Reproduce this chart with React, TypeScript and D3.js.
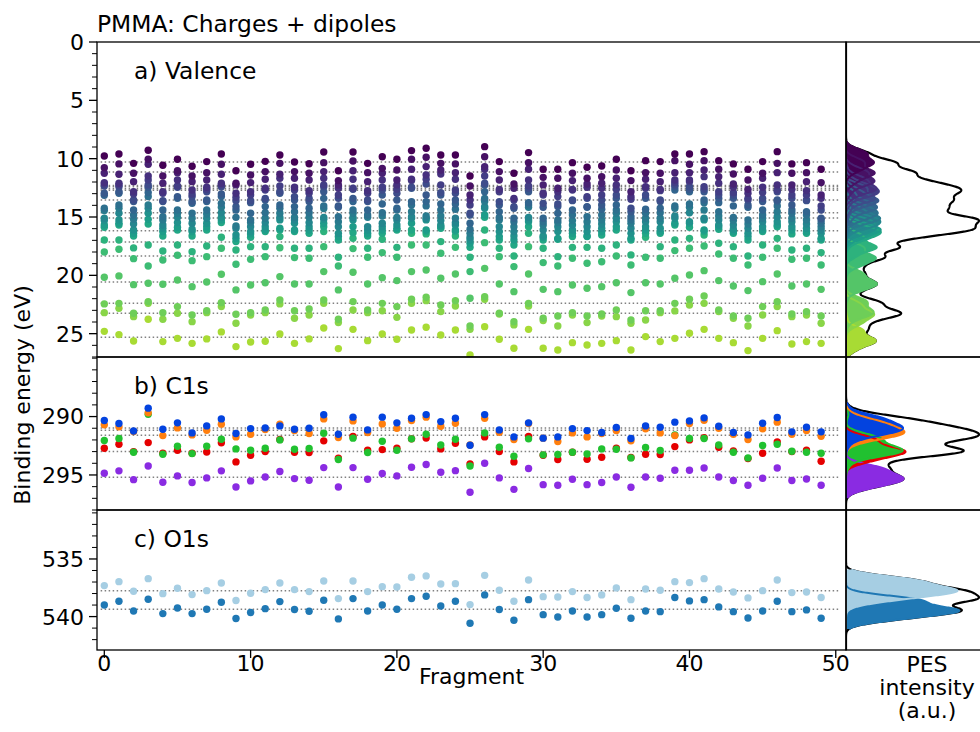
import React from "react";
import * as d3 from "d3";

// ---------------- DATA ----------------
const FRAGMENTS: number[] = d3.range(50);

// Valence binding energies (eV): one row per fragment, 20 orbitals each (sorted)
const VALENCE_BY_FRAGMENT: number[][] = [
  [9.77,10.77,11.25,12.05,12.17,12.34,12.97,13.14,14.25,14.45,15.11,15.31,15.68,15.88,16.97,18.0,20.17,22.45,23.2,24.8],
  [9.6,10.45,11.34,12.11,12.25,12.4,12.83,12.97,13.97,14.25,14.68,15.25,15.54,15.68,16.97,17.77,20.05,22.4,22.83,25.08],
  [10.4,11.25,11.97,12.83,13.03,13.54,13.68,14.4,14.83,15.2,15.6,16.11,16.4,16.63,17.65,18.57,20.8,23.25,23.54,25.63],
  [9.28,10.05,10.48,11.48,11.83,12.25,12.45,12.91,13.25,13.97,14.25,14.68,15.2,15.6,17.4,19.2,20.68,22.25,22.4,23.77],
  [10.57,11.48,12.11,12.83,12.97,13.6,13.68,14.4,14.97,15.25,15.68,15.97,16.25,16.63,17.91,18.68,20.77,23.2,23.77,25.68],
  [10.05,11.03,11.2,11.83,12.34,12.45,13.25,13.4,14.4,14.68,15.03,15.48,15.88,16.11,17.4,18.28,20.4,22.68,23.25,25.4],
  [10.65,11.48,11.97,12.68,13.03,13.25,13.68,13.83,14.68,15.11,15.54,16.05,16.25,16.63,17.97,18.74,20.97,23.4,23.97,25.83],
  [10.25,11.2,11.83,12.45,12.63,12.83,13.54,13.68,14.4,14.74,15.11,15.54,15.83,16.11,17.48,18.4,20.57,23.03,23.2,25.45],
  [9.6,10.48,11.34,12.11,12.25,12.4,13.03,13.25,13.83,14.17,14.63,15.03,15.25,15.48,16.74,17.68,19.91,22.34,22.68,24.85],
  [11.03,12.11,12.25,12.97,13.31,13.6,14.11,14.4,15.03,15.77,15.97,16.54,16.83,17.11,17.83,19.05,21.25,23.34,24.11,26.11],
  [10.48,11.4,12.05,12.83,13.11,13.6,13.77,14.68,15.25,15.48,15.83,16.25,16.45,16.74,17.54,18.63,20.83,23.2,23.4,25.71],
  [10.23,11.11,11.77,12.54,12.68,13.4,13.54,14.11,14.63,15.11,15.48,15.83,16.11,16.25,17.54,18.4,20.63,22.97,23.2,25.65],
  [9.68,10.4,11.34,11.68,12.34,12.83,12.97,13.97,14.25,14.68,15.03,15.25,15.97,16.11,16.68,17.63,20.11,22.11,22.45,25.03],
  [10.28,11.11,11.68,12.45,12.68,13.25,13.54,14.11,14.54,15.03,15.25,15.54,16.11,16.25,17.68,18.48,20.74,23.03,23.68,25.83],
  [10.43,11.25,11.83,12.74,12.97,13.4,13.68,14.25,14.63,15.03,15.48,15.83,16.11,16.4,17.68,18.54,20.74,22.88,23.4,25.45],
  [9.43,10.34,11.11,11.68,12.25,12.4,12.83,13.4,14.05,14.28,15.03,15.2,15.54,15.83,16.25,17.54,19.68,22.11,22.4,24.51],
  [11.03,11.88,12.25,12.54,13.11,13.4,14.05,14.17,14.97,15.4,15.83,16.4,16.68,16.97,18.45,19.2,21.25,23.77,24.05,26.28],
  [9.43,10.2,11.03,11.77,12.54,12.63,13.4,13.68,14.4,14.68,15.03,15.25,15.83,16.34,16.83,17.71,19.74,22.25,22.97,24.63],
  [10.4,11.2,11.97,12.74,12.97,13.54,13.68,14.4,14.83,15.03,15.83,16.11,16.4,16.63,17.68,18.45,20.74,22.97,23.2,25.6],
  [9.83,10.83,11.25,11.83,12.45,12.68,13.11,13.88,14.63,14.91,15.54,15.83,16.11,16.4,16.91,18.05,20.2,22.4,23.03,25.03],
  [10.05,10.97,11.83,12.25,12.63,12.97,13.54,14.25,14.4,15.03,15.25,15.68,15.97,16.11,17.6,18.45,20.45,22.68,23.6,25.48],
  [9.31,10.05,10.91,11.77,11.88,12.45,12.54,13.68,13.97,14.54,14.97,15.11,15.54,16.11,16.4,17.4,19.68,22.05,22.4,24.68],
  [9.11,9.88,10.68,11.4,11.77,12.17,13.11,13.68,14.05,14.91,15.11,15.25,16.11,16.25,16.45,17.4,19.54,21.88,22.17,24.45],
  [9.68,10.4,10.97,11.31,12.25,12.91,13.11,13.88,14.4,14.91,15.31,15.68,15.83,15.97,17.11,18.11,20.25,22.54,23.11,25.11],
  [9.68,10.45,11.2,11.77,12.68,12.97,13.54,13.88,14.34,15.11,15.48,15.68,16.11,16.25,16.63,17.6,19.88,22.17,22.63,24.68],
  [11.48,12.34,13.11,13.54,13.97,14.68,14.83,15.54,16.05,16.4,16.74,16.97,17.25,17.6,18.45,19.68,21.97,24.34,24.63,26.83],
  [8.97,9.83,10.68,10.91,11.48,12.11,12.25,12.83,13.4,13.68,14.11,14.25,14.83,15.03,16.11,17.2,19.4,21.83,22.05,24.4],
  [10.25,11.11,11.83,12.63,12.83,13.68,13.97,14.54,15.03,15.25,15.83,16.25,16.68,16.97,17.68,18.4,20.74,23.25,23.31,25.48],
  [11.25,12.17,12.54,13.4,13.54,14.11,14.25,15.11,15.4,15.83,16.25,16.63,16.97,17.4,18.34,19.25,21.4,23.97,24.25,26.25],
  [9.48,10.34,10.91,11.83,12.34,12.54,12.83,13.77,13.97,14.17,15.03,15.25,15.4,15.83,16.4,17.54,19.88,22.4,22.63,24.63],
  [10.91,11.6,12.25,12.97,13.11,13.83,14.17,15.11,15.4,15.68,16.11,16.63,16.74,16.97,17.68,18.91,21.2,23.68,23.88,26.25],
  [10.91,11.68,12.54,12.83,13.25,13.88,14.11,14.68,15.25,15.48,15.83,16.25,16.83,16.91,18.4,19.2,21.4,23.48,24.34,26.4],
  [10.34,11.25,11.88,12.63,12.68,13.54,13.6,14.4,14.83,15.31,15.68,16.11,16.4,16.68,17.6,18.54,20.83,23.2,23.4,25.77],
  [10.74,11.68,12.17,12.45,13.25,13.4,14.11,14.17,14.97,15.4,15.83,16.25,16.63,16.68,17.6,18.97,21.11,23.48,24.05,25.97],
  [10.63,11.54,12.11,12.54,13.11,13.54,13.97,14.34,14.83,15.25,15.6,15.97,16.25,16.54,17.68,18.83,20.97,23.31,23.48,25.83],
  [10.05,10.97,11.68,12.25,12.63,13.11,13.4,13.97,14.4,14.68,15.11,15.4,15.83,16.11,17.4,18.34,20.63,22.97,23.54,25.6],
  [11.03,11.88,12.83,13.25,13.48,14.25,14.54,14.97,15.25,15.54,15.97,16.4,16.83,16.97,18.25,19.11,21.48,23.83,24.11,26.4],
  [10.17,11.2,11.77,12.4,12.54,13.11,13.4,14.34,14.68,15.11,15.4,15.83,16.11,16.4,16.74,18.45,20.63,23.03,23.83,25.25],
  [10.25,11.25,11.97,12.63,12.74,13.54,13.68,14.25,14.63,15.11,15.4,15.97,16.25,16.4,17.54,18.54,20.74,23.03,23.2,25.68],
  [9.6,10.17,11.2,11.83,12.05,12.25,12.4,12.68,14.05,14.25,14.91,15.11,15.54,15.68,16.97,17.88,20.25,22.4,23.05,25.4],
  [9.6,10.48,11.2,11.83,11.97,12.4,12.63,12.83,13.88,14.17,14.63,15.4,15.54,15.88,16.83,17.68,19.97,22.05,22.54,24.97],
  [9.4,10.17,10.97,11.54,12.4,12.63,12.83,13.54,13.77,14.4,15.11,15.25,16.11,16.25,16.54,17.48,19.6,21.77,22.4,24.63],
  [10.17,10.91,11.54,12.11,12.83,13.11,13.4,13.77,14.54,14.91,15.25,15.68,15.83,16.05,17.25,18.17,20.45,22.97,23.11,25.4],
  [10.45,11.31,12.17,12.45,12.91,13.11,13.4,14.05,15.03,15.31,15.68,16.05,16.25,16.4,17.54,18.54,20.91,23.48,23.68,25.77],
  [10.91,11.83,12.63,12.97,13.4,13.54,13.97,14.17,15.25,15.6,15.97,16.4,16.68,16.97,18.34,19.11,21.31,23.68,24.34,26.45],
  [10.25,11.25,11.68,12.45,12.91,13.4,13.68,14.4,14.83,15.11,15.4,15.83,16.11,16.25,17.4,18.45,20.54,22.68,23.4,25.4],
  [9.4,10.4,11.2,12.25,12.68,12.83,13.54,13.68,14.05,14.54,14.97,15.4,15.68,15.83,16.83,17.68,19.88,22.25,22.68,24.74],
  [10.45,11.25,12.25,12.63,13.11,13.4,13.97,14.4,14.68,15.11,15.4,15.83,16.11,16.45,17.83,18.63,20.91,23.31,23.54,25.88],
  [10.34,11.2,11.97,12.74,13.11,13.54,13.6,14.54,14.83,15.25,15.6,15.97,16.25,16.4,17.68,18.54,20.74,23.11,23.4,25.68],
  [10.91,12.05,13.11,13.4,14.05,14.4,15.11,15.25,15.54,15.83,16.11,16.4,16.83,16.97,18.05,19.11,21.2,23.48,24.11,25.83],
];

// C1s binding energies (eV), one value per fragment
const C1S_BLUE = [290.34,290.60,291.23,289.28,291.08,290.54,291.40,290.80,290.20,291.45,291.03,290.97,290.80,291.08,291.00,289.85,291.51,290.05,291.14,290.05,290.54,290.14,289.83,290.43,290.14,292.45,289.83,291.14,291.74,290.54,291.85,291.74,291.03,291.20,291.37,290.94,291.88,290.80,290.91,290.48,290.37,290.11,290.83,291.37,291.57,290.57,290.08,291.31,290.91,291.31];
const C1S_ORANGE = [290.71,290.88,291.28,289.68,291.63,290.97,291.57,291.17,290.65,291.74,291.51,291.11,290.65,291.20,291.45,290.20,291.80,290.37,291.37,290.63,291.00,290.34,290.05,290.83,290.57,292.43,290.14,291.34,291.97,290.60,291.85,292.14,291.40,291.74,291.45,291.20,292.08,291.05,291.40,291.63,290.60,290.31,291.00,291.51,291.97,291.05,290.48,291.51,291.20,291.68];
const C1S_GREEN = [292.05,291.88,293.05,289.80,293.23,292.54,293.17,292.54,291.94,292.77,292.88,292.71,292.00,292.80,292.74,291.43,293.68,291.85,293.08,292.11,292.88,291.91,291.51,292.43,291.94,294.23,291.40,292.63,293.40,291.91,293.28,293.25,293.05,293.20,292.77,292.80,293.54,292.65,292.91,291.57,291.88,291.88,292.43,293.05,293.54,292.48,292.37,292.97,293.05,293.14];
const C1S_RED = [292.71,292.37,293.00,292.23,293.14,292.88,293.14,293.03,292.25,293.88,293.31,293.00,291.97,293.05,293.08,292.08,293.57,291.71,292.88,292.83,292.71,291.91,291.83,292.77,292.28,294.05,291.74,293.00,293.88,291.71,293.31,293.68,293.05,293.65,293.48,292.71,293.51,293.23,293.25,292.57,292.00,291.80,292.63,292.94,293.60,293.14,292.17,293.00,292.88,293.83];
const C1S_PURPLE = [294.85,294.65,295.40,294.23,295.63,295.08,295.65,295.25,294.65,296.03,295.51,295.17,294.71,295.31,295.45,294.37,296.03,294.37,295.37,294.88,295.08,294.34,294.11,294.77,294.63,296.48,294.00,295.25,296.23,294.45,295.83,295.88,295.37,295.83,295.65,295.17,296.05,295.17,295.28,294.60,294.60,294.40,295.17,295.48,295.88,295.28,294.40,295.48,295.34,295.88];

// O1s binding energies (eV)
const O1S_LIGHT = [537.31,536.97,537.80,536.71,538.01,537.54,538.09,537.75,537.08,538.61,537.98,537.66,537.08,537.66,537.83,536.91,538.44,536.91,537.83,537.40,537.43,536.59,536.47,537.17,537.14,538.96,536.42,537.72,538.67,536.82,538.27,538.30,537.83,538.35,538.12,537.51,538.53,537.60,537.72,536.97,537.05,536.71,537.60,537.86,538.38,537.75,536.82,537.92,537.86,538.35];
const O1S_DARK = [538.99,538.67,539.51,538.50,539.74,539.25,539.74,539.36,538.76,540.17,539.65,539.31,538.70,539.39,539.54,538.58,540.20,538.44,539.51,538.99,539.36,538.44,538.24,539.08,538.67,540.58,538.12,539.39,540.32,538.53,539.83,540.03,539.51,540.03,539.83,539.28,540.14,539.51,539.57,538.35,538.64,538.53,539.16,539.57,540.12,539.51,538.67,539.57,539.42,540.14];

// Reference levels (dotted lines)
const REF_VALENCE = [10.28,11.14,12.3,12.4,12.57,12.7,13.54,14.63,15.08,16.17,17.14,18.34,20.57,22.4,23.25,25.31];
const REF_C1S = [290.98,291.17,291.6,293.0,295.2];
const REF_O1S = [537.75,539.36];

const X_TICKS = [0, 10, 20, 30, 40, 50];
const VALENCE_TICKS = [0, 5, 10, 15, 20, 25];
const C1S_TICKS = [290, 295];
const O1S_TICKS = [535, 540];

const C1S_COLORS = ["#0343df", "#ff7f0e", "#21c130", "#e50000", "#8a2be2"];
const O1S_COLORS = ["#a6cee3", "#1f78b4"];

// ---------------- CHART ----------------
const FONT = "DejaVu Sans, sans-serif";
const FS = 22;
const FS_BIG = 23.4;
const LEFT = 97, RIGHT = 846, PES_RIGHT = 1008;

function spectrum(values: number[], grid: number[], sigma: number) {
  const k = 1 / (2 * sigma * sigma);
  return grid.map((e) => {
    let s = 0;
    for (const v of values) s += Math.exp(-(e - v) * (e - v) * k);
    return s;
  });
}

export default function App() {
  const x = d3.scaleLinear().domain([-0.5, 50.7]).range([LEFT, RIGHT]);
  const nVal = VALENCE_BY_FRAGMENT[0].length;
  const valenceSeries = d3.range(nVal).map((k) => VALENCE_BY_FRAGMENT.map((col) => col[k]));
  const valColors = d3.range(nVal).map((k) => d3.interpolateViridis((k / (nVal - 1)) * 0.87));

  const panels = [
    { id: "val", top: 42, bottom: 357, domain: [0, 27], ticks: VALENCE_TICKS, label: "a) Valence", labelY: 79,
      series: valenceSeries, colors: valColors, refs: REF_VALENCE, sigma: 0.3 },
    { id: "c1s", top: 357, bottom: 510, domain: [284.9, 298.0], ticks: C1S_TICKS, label: "b) C1s", labelY: 394,
      series: [C1S_BLUE, C1S_ORANGE, C1S_GREEN, C1S_RED, C1S_PURPLE], colors: C1S_COLORS, refs: REF_C1S, sigma: 0.35 },
    { id: "o1s", top: 510, bottom: 650, domain: [530.75, 542.9], ticks: O1S_TICKS, label: "c) O1s", labelY: 547,
      series: [O1S_LIGHT, O1S_DARK], colors: O1S_COLORS, refs: REF_O1S, sigma: 0.35 },
  ];

  return (
    <svg width={980} height={732} style={{ position: "fixed", left: 0, top: 0, background: "#fff" }}
      fontFamily={FONT}>
      <rect x={0} y={0} width={980} height={732} fill="#fff" />
      <text x={LEFT} y={32} fontSize={FS_BIG} fill="#000">PMMA: Charges + dipoles</text>
      {panels.map((p) => {
        const y = d3.scaleLinear().domain(p.domain).range([p.top, p.bottom]);
        const order = d3.range(p.series.length).sort((a, b) => d3.mean(p.series[b])! - d3.mean(p.series[a])!);
        const all = p.series.flat();
        const gmin = d3.min(all)! - 0.5, gmax = d3.max(all)! + 0.5;
        const gridO = d3.range(gmin, gmax, 0.02);
        const gridT = d3.range(p.domain[0], p.domain[1] + 0.01, 0.02);
        const specs = p.series.map((s) => spectrum(s, gridO, p.sigma));
        const total = spectrum(all, gridT, p.sigma);
        const maxT = d3.max(total)!;
        const px = d3.scaleLinear().domain([0, maxT]).range([RIGHT, RIGHT + 133]);
        const area = d3.area<[number, number]>().y((d) => y(d[0])).x0(RIGHT).x1((d) => px(d[1]));
        const line = d3.line<[number, number]>().y((d) => y(d[0])).x((d) => px(d[1]));
        const minor = d3.range(Math.ceil(p.domain[0]), Math.floor(p.domain[1]) + 1).filter((v) => !p.ticks.includes(v));
        return (
          <g key={p.id}>
            <defs>
              <clipPath id={`clip-${p.id}`}>
                <rect x={LEFT} y={p.top} width={RIGHT - LEFT} height={p.bottom - p.top} />
              </clipPath>
              <clipPath id={`clipp-${p.id}`}>
                <rect x={RIGHT} y={p.top} width={PES_RIGHT - RIGHT} height={p.bottom - p.top} />
              </clipPath>
            </defs>
            <g clipPath={`url(#clip-${p.id})`}>
              {p.refs.map((r, i) => (
                <line key={i} x1={x(-0.25)} x2={x(50.25)} y1={y(r)} y2={y(r)} stroke="#808080"
                  strokeWidth={1.5} strokeDasharray="1.5 2.5" />
              ))}
              {order.map((k) => (
                <g key={k} fill={p.colors[k]}>
                  {FRAGMENTS.map((f) => (
                    <circle key={f} cx={x(f)} cy={y(p.series[k][f])} r={3.7} />
                  ))}
                </g>
              ))}
            </g>
            <g clipPath={`url(#clipp-${p.id})`}>
              <path d={line(gridT.map((e, i) => [e, total[i]]))!} fill="none" stroke="#000" strokeWidth={2.2} />
              {order.map((k) => (
                <path key={"a" + k} d={area(gridO.map((e, i) => [e, specs[k][i]]))!} fill={p.colors[k]} />
              ))}
              {order.map((k) => (
                <path key={"l" + k} d={line(gridO.map((e, i) => [e, specs[k][i]]))!} fill="none"
                  stroke={p.colors[k]} strokeWidth={2} />
              ))}
            </g>
            <rect x={LEFT} y={p.top} width={RIGHT - LEFT} height={p.bottom - p.top} fill="none" stroke="#000" strokeWidth={1.3} />
            <rect x={RIGHT} y={p.top} width={PES_RIGHT - RIGHT} height={p.bottom - p.top} fill="none" stroke="#000" strokeWidth={1.3} />
            {p.ticks.map((t) => (
              <g key={t}>
                <line x1={LEFT - 8} x2={LEFT} y1={y(t)} y2={y(t)} stroke="#000" strokeWidth={1.3} />
                <text x={LEFT - 13} y={y(t)} dy="0.36em" textAnchor="end" fontSize={FS}>{t}</text>
              </g>
            ))}
            {minor.map((t) => (
              <line key={"m" + t} x1={LEFT - 5} x2={LEFT} y1={y(t)} y2={y(t)} stroke="#000" strokeWidth={1} />
            ))}
            <text x={134} y={p.labelY} fontSize={FS_BIG}>{p.label}</text>
          </g>
        );
      })}
      {X_TICKS.map((t) => (
        <g key={t}>
          <line x1={x(t)} x2={x(t)} y1={650} y2={658} stroke="#000" strokeWidth={1.3} />
          <text x={x(t)} y={671} textAnchor="middle" fontSize={FS}>{t}</text>
        </g>
      ))}
      <text x={(LEFT + RIGHT) / 2} y={684} textAnchor="middle" fontSize={FS}>Fragment</text>
      <text transform={`translate(30,395) rotate(-90)`} textAnchor="middle" fontSize={FS}>Binding energy (eV)</text>
      <text x={927} y={672} textAnchor="middle" fontSize={FS}>PES</text>
      <text x={927} y={695} textAnchor="middle" fontSize={FS}>intensity</text>
      <text x={927} y={718} textAnchor="middle" fontSize={FS}>(a.u.)</text>
    </svg>
  );
}
